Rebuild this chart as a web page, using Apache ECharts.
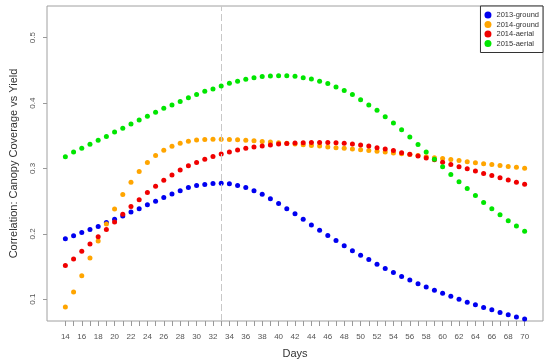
<!DOCTYPE html>
<html>
<head>
<meta charset="utf-8">
<script src="https://cdn.jsdelivr.net/npm/echarts@6/dist/echarts.min.js"></script>
<style>
html,body{margin:0;padding:0;background:#fff;}
#c{width:550px;height:364px;}
</style>
</head>
<body>
<div id="c"></div>
<script>
var days = [14,15,16,17,18,19,20,21,22,23,24,25,26,27,28,29,30,31,32,33,34,35,36,37,38,39,40,41,42,43,44,45,46,47,48,49,50,51,52,53,54,55,56,57,58,59,60,61,62,63,64,65,66,67,68,69,70];
var xTickLabels = [14,16,18,20,22,24,26,28,30,32,34,36,38,40,42,44,46,48,50,52,54,56,58,60,62,64,66,68,70];
var yTickLabels = [0.1,0.2,0.3,0.4,0.5];
var seriesNames = ['2013-ground','2014-ground','2014-aerial','2015-aerial'];
var ground2013 = [0.1924,0.1970,0.2020,0.2065,0.2114,0.2172,0.2223,0.2273,0.2333,0.2383,0.2444,0.2500,0.2556,0.2609,0.2659,0.2708,0.2738,0.2756,0.2770,0.2773,0.2765,0.2741,0.2708,0.2659,0.2605,0.2538,0.2465,0.2384,0.2308,0.2223,0.2136,0.2056,0.1975,0.1899,0.1818,0.1742,0.1671,0.1606,0.1535,0.1470,0.1409,0.1348,0.1293,0.1238,0.1187,0.1136,0.1091,0.1045,0.1000,0.0955,0.0914,0.0874,0.0838,0.0798,0.0763,0.0727,0.0697];
var ground2014 = [0.088,0.111,0.136,0.163,0.189,0.215,0.238,0.260,0.279,0.2955,0.309,0.320,0.328,0.334,0.3386,0.3417,0.3435,0.3444,0.3447,0.3447,0.3444,0.3439,0.3433,0.3424,0.3414,0.3405,0.3394,0.3384,0.3374,0.3364,0.3353,0.3342,0.3330,0.3318,0.3308,0.3298,0.3287,0.3275,0.3262,0.3250,0.3238,0.3225,0.3212,0.3197,0.3180,0.3165,0.3152,0.3136,0.3121,0.3104,0.3088,0.3074,0.3060,0.3045,0.3032,0.3017,0.3003];
var aerial2014 = [0.1515,0.1617,0.1732,0.1844,0.1955,0.2065,0.2182,0.2300,0.2418,0.2523,0.2632,0.2727,0.2818,0.2899,0.2975,0.3041,0.3091,0.3141,0.3182,0.3223,0.3253,0.3283,0.3308,0.3329,0.3344,0.3359,0.3374,0.3383,0.3389,0.3394,0.3398,0.3398,0.3398,0.3394,0.3386,0.3376,0.3360,0.3343,0.3318,0.3298,0.3273,0.3242,0.3217,0.3192,0.3162,0.3132,0.3096,0.3061,0.3026,0.2995,0.2960,0.2924,0.2894,0.2859,0.2823,0.2788,0.2758];
var aerial2015 = [0.318,0.325,0.331,0.337,0.343,0.349,0.3556,0.3617,0.368,0.374,0.380,0.386,0.392,0.397,0.4026,0.408,0.413,0.418,0.4217,0.4262,0.4303,0.4333,0.4364,0.4389,0.4405,0.4414,0.4420,0.4420,0.4409,0.4389,0.4368,0.4333,0.4298,0.4247,0.4192,0.4132,0.4050,0.3972,0.3889,0.3792,0.3697,0.3591,0.3480,0.3368,0.3253,0.3141,0.3026,0.2909,0.2798,0.2692,0.2586,0.2480,0.2383,0.2292,0.2202,0.2121,0.2041];
var markDay = 33;

var colors = ['#0000f0','#ffa500','#f00000','#00e600'];
var allValues = [ground2013, ground2014, aerial2014, aerial2015];

function pairs(vals){ return days.map(function(d,i){ return [d, vals[i]]; }); }

var FONT = '"Liberation Sans", Arial, Helvetica, sans-serif';
var series = [{
  type: 'scatter', data: [], silent: true, z: 1,
  markLine: {
    silent: true, symbol: ['none','none'], animation: false,
    label: {show:false},
    lineStyle: {color:'#c8c8c8', width:1, type:[7,3]},
    data: [{xAxis: markDay}]
  }
}];
seriesNames.forEach(function(n,i){
  series.push({
    name: n, type: 'scatter', data: pairs(allValues[i]),
    symbol: 'circle', symbolSize: 5, z: 2 + i,
    itemStyle: {color: colors[i], opacity: 1}
  });
});

var chart = echarts.init(document.getElementById('c'), null, {renderer:'canvas'});
chart.setOption({
  animation: false,
  backgroundColor: '#fff',
  grid: {left: 47, right: 7, top: 6, bottom: 40, show: true, borderColor: '#a0a0a0', borderWidth: 1, backgroundColor: 'transparent'},
  legend: {
    data: seriesNames.map(function(n){ return {name:n, icon:'circle'}; }),
    orient: 'vertical', right: 7, top: 6,
    itemWidth: 7, itemHeight: 7, itemGap: 1.5,
    padding: [5,4,5,4],
    borderColor: '#333', borderWidth: 1, backgroundColor: '#fff',
    itemStyle: {opacity: 1},
    textStyle: {fontSize: 7.5, color: '#333', fontFamily: FONT, lineHeight: 7}
  },
  xAxis: {
    type: 'value', min: 11.76, max: 72.24,
    name: 'Days', nameLocation: 'middle', nameGap: 27,
    nameTextStyle: {fontSize: 11, color: '#333', fontFamily: FONT},
    axisLine: {show: false},
    axisTick: {show: true, length: 5, lineStyle: {color: '#999'}, customValues: days},
    axisLabel: {fontSize: 8, color: '#555', fontFamily: FONT, margin: 12, customValues: xTickLabels},
    splitLine: {show: false}
  },
  yAxis: {
    type: 'value', min: 0.0667, max: 0.5485,
    name: 'Correlation: Canopy Coverage vs Yield', nameLocation: 'middle', nameGap: 28,
    nameTextStyle: {fontSize: 11, color: '#333', fontFamily: FONT},
    axisLine: {show: false},
    axisTick: {show: true, length: 4, lineStyle: {color: '#999'}, customValues: yTickLabels},
    axisLabel: {fontSize: 8, color: '#555', fontFamily: FONT, rotate: 90, margin: 10, customValues: yTickLabels,
      formatter: function(v){ return v.toFixed(1); }},
    splitLine: {show: false}
  },
  series: series
});
</script>
</body>
</html>
